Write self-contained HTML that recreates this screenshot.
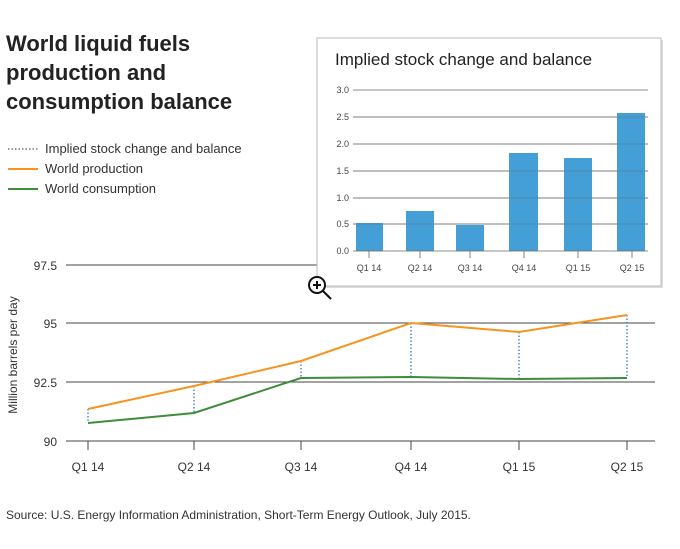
<!DOCTYPE html>
<html><head><style>
body{margin:0;width:680px;height:544px;background:#fff;font-family:"Liberation Sans",sans-serif;overflow:hidden}
</style></head><body>
<svg width="680" height="544" xmlns="http://www.w3.org/2000/svg" font-family="Liberation Sans, sans-serif">
<text x="6" y="51" font-size="22" font-weight="bold" fill="#222">World liquid fuels</text>
<text x="6" y="80" font-size="22" font-weight="bold" fill="#222">production and</text>
<text x="6" y="109" font-size="22" font-weight="bold" fill="#222">consumption balance</text>
<line x1="8" y1="149" x2="38" y2="149" stroke="#333" stroke-dasharray="1.5,2"/>
<text x="45" y="153" font-size="13" fill="#333">Implied stock change and balance</text>
<line x1="8" y1="169" x2="38" y2="169" stroke="#f7931e" stroke-width="2"/>
<text x="45" y="173" font-size="13" fill="#333">World production</text>
<line x1="8" y1="189" x2="38" y2="189" stroke="#3f8c3a" stroke-width="2"/>
<text x="45" y="193" font-size="13" fill="#333">World consumption</text>
<g stroke="#444" stroke-width="1">
<line x1="66" y1="265" x2="655" y2="265"/><line x1="66" y1="323" x2="655" y2="323"/>
<line x1="66" y1="382" x2="655" y2="382"/><line x1="66" y1="441" x2="655" y2="441"/>
<line x1="88" y1="441" x2="88" y2="450"/><line x1="194" y1="441" x2="194" y2="450"/><line x1="301" y1="441" x2="301" y2="450"/><line x1="411" y1="441" x2="411" y2="450"/><line x1="519" y1="441" x2="519" y2="450"/><line x1="627" y1="441" x2="627" y2="450"/>
</g>
<g font-size="12" fill="#333" text-anchor="end">
<text x="57" y="270">97.5</text><text x="57" y="328">95</text><text x="57" y="387">92.5</text><text x="57" y="446">90</text>
</g>
<text transform="translate(17,355) rotate(-90)" font-size="12" fill="#333" text-anchor="middle">Million barrels per day</text>
<g font-size="12" fill="#333" text-anchor="middle">
<text x="88" y="471">Q1 14</text><text x="194" y="471">Q2 14</text><text x="301" y="471">Q3 14</text><text x="411" y="471">Q4 14</text><text x="519" y="471">Q1 15</text><text x="627" y="471">Q2 15</text>
</g>
<g stroke="#1a6fb8" stroke-dasharray="1.5,2" stroke-width="1.2">
<line x1="88" y1="409" x2="88" y2="423"/><line x1="194" y1="386" x2="194" y2="413"/><line x1="301" y1="361" x2="301" y2="378"/><line x1="411" y1="323" x2="411" y2="377"/><line x1="519" y1="332" x2="519" y2="379"/><line x1="627" y1="315" x2="627" y2="378"/>
</g>
<polyline points="88,409 194,386 301,361 411,323 519,332 627,315" fill="none" stroke="#f7931e" stroke-width="2"/>
<polyline points="88,423 194,413 301,378 411,377 519,379 627,378" fill="none" stroke="#3f8c3a" stroke-width="2"/>
<text x="6" y="519" font-size="12" fill="#333">Source: U.S. Energy Information Administration, Short-Term Energy Outlook, July 2015.</text>
<rect x="319" y="40" width="344" height="248" fill="#ddd"/>
<rect x="317" y="38" width="344" height="248" fill="#fff" stroke="#bbb"/>
<text x="335" y="65" font-size="17" fill="#222">Implied stock change and balance</text>
<g stroke="#666" stroke-width="0.8">
<line x1="353" y1="90" x2="648" y2="90"/><line x1="353" y1="117" x2="648" y2="117"/><line x1="353" y1="144" x2="648" y2="144"/><line x1="353" y1="171" x2="648" y2="171"/><line x1="353" y1="198" x2="648" y2="198"/><line x1="353" y1="224" x2="648" y2="224"/>
</g>
<g fill="#439fd6">
<rect x="356" y="223" width="27" height="28"/><rect x="406" y="211" width="28" height="40"/><rect x="456" y="225" width="28" height="26"/><rect x="509" y="153" width="29" height="98"/><rect x="564" y="158" width="28" height="93"/><rect x="617" y="113" width="28" height="138"/>
</g>
<g stroke="#666" stroke-width="0.8">
<line x1="353" y1="198" x2="648" y2="198" opacity=".5"/><line x1="353" y1="224" x2="648" y2="224" opacity=".5"/><line x1="353" y1="171" x2="648" y2="171" opacity=".5"/><line x1="353" y1="144" x2="648" y2="144" opacity=".5"/><line x1="353" y1="117" x2="648" y2="117" opacity=".5"/>
<line x1="353" y1="251" x2="648" y2="251"/>
<line x1="369" y1="251" x2="369" y2="258"/><line x1="420" y1="251" x2="420" y2="258"/><line x1="470" y1="251" x2="470" y2="258"/><line x1="524" y1="251" x2="524" y2="258"/><line x1="578" y1="251" x2="578" y2="258"/><line x1="632" y1="251" x2="632" y2="258"/>
</g>
<g font-size="9" fill="#444" text-anchor="end">
<text x="349" y="93">3.0</text><text x="349" y="120">2.5</text><text x="349" y="147">2.0</text><text x="349" y="174">1.5</text><text x="349" y="201">1.0</text><text x="349" y="227">0.5</text><text x="349" y="254">0.0</text>
</g>
<g font-size="9" fill="#444" text-anchor="middle">
<text x="369" y="271">Q1 14</text><text x="420" y="271">Q2 14</text><text x="470" y="271">Q3 14</text><text x="524" y="271">Q4 14</text><text x="578" y="271">Q1 15</text><text x="632" y="271">Q2 15</text>
</g>
<circle cx="317" cy="285" r="8" fill="#fff" stroke="#111" stroke-width="2"/>
<line x1="323" y1="291" x2="331" y2="299" stroke="#111" stroke-width="2"/>
<line x1="313" y1="285" x2="321" y2="285" stroke="#111" stroke-width="2"/>
<line x1="317" y1="281" x2="317" y2="289" stroke="#111" stroke-width="2"/>
</svg>
</body></html>
